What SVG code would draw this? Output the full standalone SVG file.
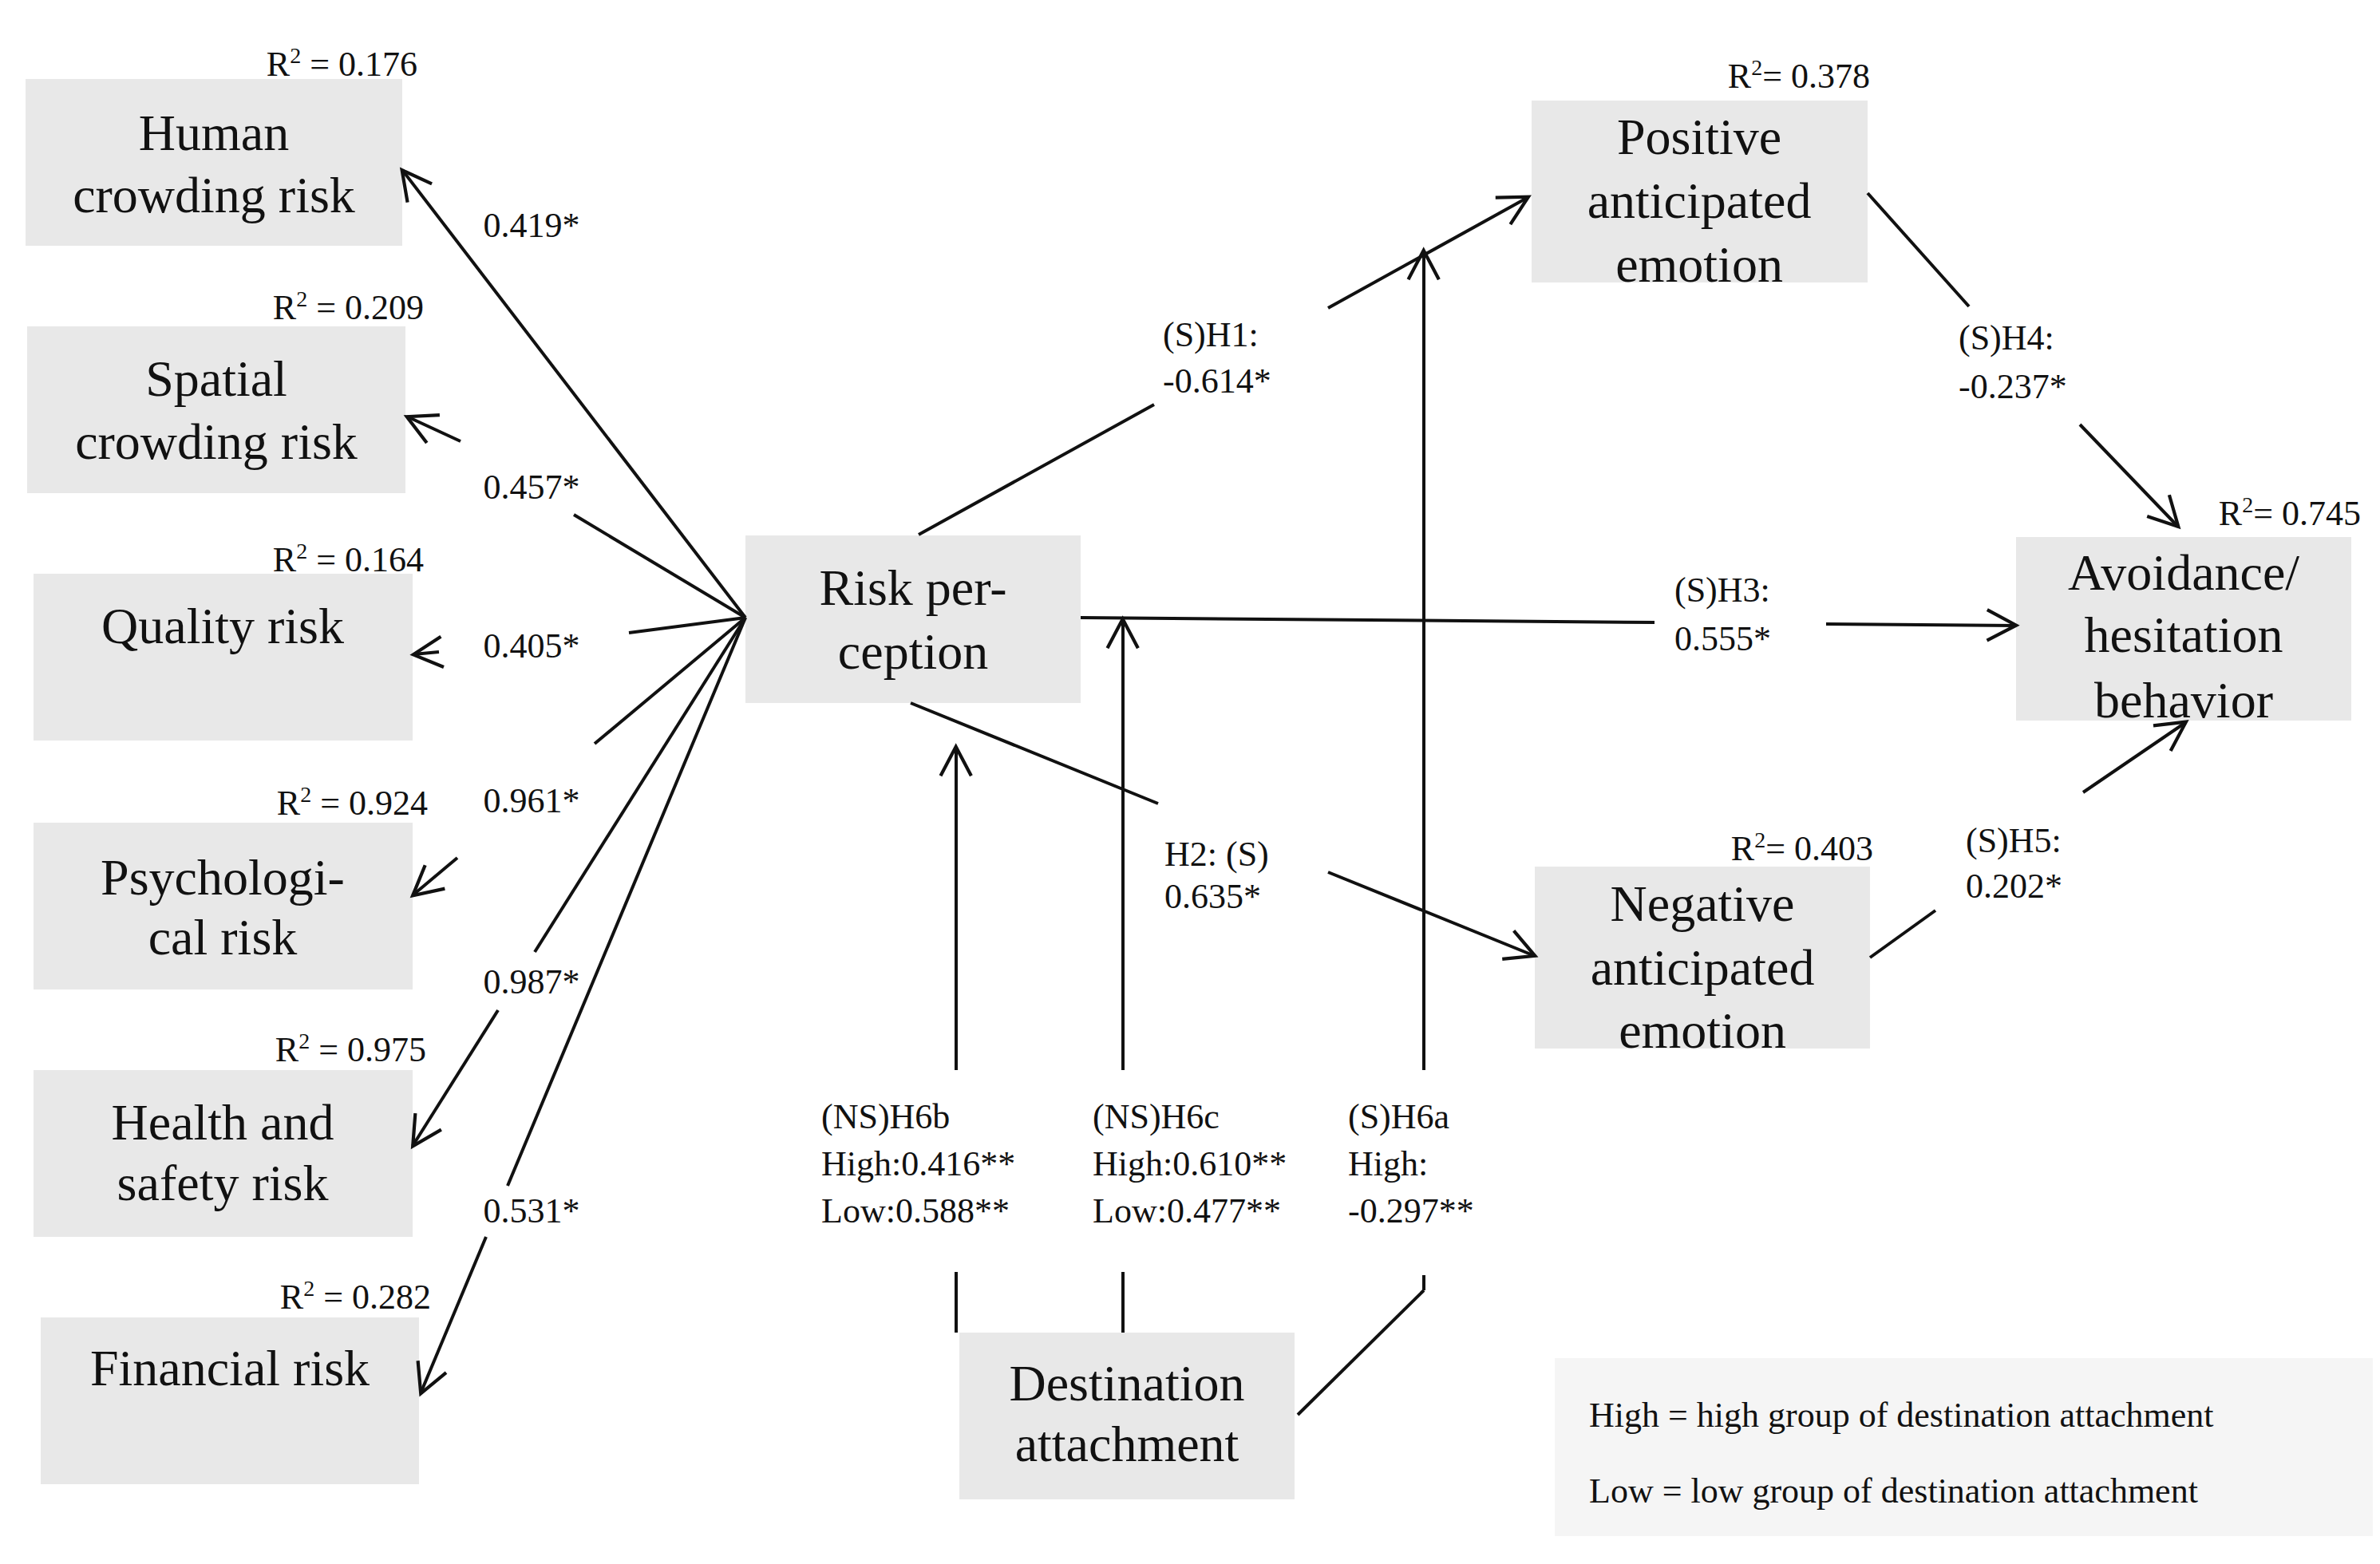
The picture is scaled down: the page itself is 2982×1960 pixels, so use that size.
<svg xmlns="http://www.w3.org/2000/svg" width="2982" height="1960" viewBox="0 0 2982 1960">
<style>
.box{fill:#e8e8e8}
.bt{font-family:"Liberation Serif",serif;font-size:64px;text-anchor:middle;fill:#111}
.lb{font-family:"Liberation Serif",serif;font-size:44px;fill:#111}
.r2{font-family:"Liberation Serif",serif;font-size:44px;text-anchor:end;fill:#111}
.ln{stroke:#111;stroke-width:4;fill:none}
</style>
<defs>
<marker id="a" viewBox="0 0 20 20" refX="19" refY="10" markerWidth="16" markerHeight="16" markerUnits="userSpaceOnUse" orient="auto" overflow="visible">
<polyline points="0,0 19,10 0,20" fill="none" stroke="#111" stroke-width="2.2" transform="scale(2.4) translate(-11,-6)"/>
</marker>
</defs>
<rect width="2982" height="1960" fill="#fff"/>
<g id="human"><rect class="box" x="32" y="99" width="472" height="209"/><text class="bt" x="268" y="188">Human</text><text class="bt" x="268" y="266">crowding risk</text><text class="r2" x="523" y="95">R<tspan font-size="28" dy="-16">2</tspan><tspan dy="16"> = 0.176</tspan></text></g>
<g id="spatial"><rect class="box" x="34" y="409" width="474" height="209"/><text class="bt" x="271" y="496">Spatial</text><text class="bt" x="271" y="575">crowding risk</text><text class="r2" x="531" y="400">R<tspan font-size="28" dy="-16">2</tspan><tspan dy="16"> = 0.209</tspan></text></g>
<g id="quality"><rect class="box" x="42" y="719" width="475" height="209"/><text class="bt" x="279" y="806">Quality risk</text><text class="r2" x="531" y="716">R<tspan font-size="28" dy="-16">2</tspan><tspan dy="16"> = 0.164</tspan></text></g>
<g id="psych"><rect class="box" x="42" y="1031" width="475" height="209"/><text class="bt" x="279" y="1121">Psychologi-</text><text class="bt" x="279" y="1196">cal risk</text><text class="r2" x="536" y="1021">R<tspan font-size="28" dy="-16">2</tspan><tspan dy="16"> = 0.924</tspan></text></g>
<g id="health"><rect class="box" x="42" y="1341" width="475" height="209"/><text class="bt" x="279" y="1428">Health and</text><text class="bt" x="279" y="1504">safety risk</text><text class="r2" x="534" y="1330">R<tspan font-size="28" dy="-16">2</tspan><tspan dy="16"> = 0.975</tspan></text></g>
<g id="financial"><rect class="box" x="51" y="1651" width="474" height="209"/><text class="bt" x="288" y="1736">Financial risk</text><text class="r2" x="540" y="1640">R<tspan font-size="28" dy="-16">2</tspan><tspan dy="16"> = 0.282</tspan></text></g>
<g id="risk"><rect class="box" x="934" y="671" width="420" height="210"/><text class="bt" x="1144" y="758">Risk per-</text><text class="bt" x="1144" y="838">ception</text></g>
<g id="positive"><rect class="box" x="1919" y="126" width="421" height="228"/><text class="bt" x="2129" y="193">Positive</text><text class="bt" x="2129" y="273">anticipated</text><text class="bt" x="2129" y="353">emotion</text><text class="r2" x="2343" y="110">R<tspan font-size="28" dy="-16">2</tspan><tspan dy="16">= 0.378</tspan></text></g>
<g id="avoidance"><rect class="box" x="2526" y="673" width="420" height="230"/><text class="bt" x="2736" y="739">Avoidance/</text><text class="bt" x="2736" y="817">hesitation</text><text class="bt" x="2736" y="899">behavior</text><text class="r2" x="2958" y="658">R<tspan font-size="28" dy="-16">2</tspan><tspan dy="16">= 0.745</tspan></text></g>
<g id="negative"><rect class="box" x="1923" y="1086" width="420" height="228"/><text class="bt" x="2133" y="1154">Negative</text><text class="bt" x="2133" y="1234">anticipated</text><text class="bt" x="2133" y="1313">emotion</text><text class="r2" x="2347" y="1078">R<tspan font-size="28" dy="-16">2</tspan><tspan dy="16">= 0.403</tspan></text></g>
<g id="destination"><rect class="box" x="1202" y="1670" width="420" height="209"/><text class="bt" x="1412" y="1755">Destination</text><text class="bt" x="1412" y="1831">attachment</text></g>
<g id="legend"><rect x="1948" y="1702" width="1025" height="223" fill="#f5f5f5"/><text class="lb" x="1991" y="1788">High = high group of destination attachment</text><text class="lb" x="1991" y="1883">Low = low group of destination attachment</text></g>
<g id="connectors">
<line class="ln" x1="934" y1="774" x2="504" y2="213" marker-end="url(#a)"/>
<line class="ln" x1="934" y1="774" x2="719" y2="645"/><line class="ln" x1="577" y1="553" x2="510" y2="522" marker-end="url(#a)"/>
<line class="ln" x1="934" y1="774" x2="788" y2="793"/><line class="ln" x1="550" y1="817" x2="518" y2="820" marker-end="url(#a)"/>
<line class="ln" x1="934" y1="774" x2="745" y2="932"/><line class="ln" x1="573" y1="1075" x2="517" y2="1122" marker-end="url(#a)"/>
<line class="ln" x1="934" y1="774" x2="670" y2="1193"/><line class="ln" x1="624" y1="1266" x2="517" y2="1436" marker-end="url(#a)"/>
<line class="ln" x1="934" y1="774" x2="636" y2="1486"/><line class="ln" x1="609" y1="1550" x2="527" y2="1746" marker-end="url(#a)"/>
<line class="ln" x1="1151" y1="670" x2="1446" y2="507"/><line class="ln" x1="1664" y1="386" x2="1915" y2="247" marker-end="url(#a)"/>
<line class="ln" x1="1354" y1="774" x2="2073" y2="780"/><line class="ln" x1="2288" y1="782" x2="2526" y2="784" marker-end="url(#a)"/>
<line class="ln" x1="1141" y1="881" x2="1451" y2="1007"/><line class="ln" x1="1664" y1="1093" x2="1923" y2="1198" marker-end="url(#a)"/>
<line class="ln" x1="2340" y1="242" x2="2467" y2="384"/><line class="ln" x1="2606" y1="532" x2="2729" y2="660" marker-end="url(#a)"/>
<line class="ln" x1="2343" y1="1200" x2="2425" y2="1141"/><line class="ln" x1="2610" y1="993" x2="2739" y2="905" marker-end="url(#a)"/>
<line class="ln" x1="1198" y1="1341" x2="1198" y2="936" marker-end="url(#a)"/><line class="ln" x1="1198" y1="1594" x2="1198" y2="1670"/>
<line class="ln" x1="1407" y1="1341" x2="1407" y2="776" marker-end="url(#a)"/><line class="ln" x1="1407" y1="1594" x2="1407" y2="1670"/>
<line class="ln" x1="1784" y1="1341" x2="1784" y2="314" marker-end="url(#a)"/><line class="ln" x1="1784" y1="1598" x2="1784" y2="1617"/><line class="ln" x1="1784" y1="1617" x2="1626" y2="1773"/>
</g>
<g id="labels">
<text class="lb" x="666" y="297" text-anchor="middle">0.419*</text>
<text class="lb" x="666" y="625" text-anchor="middle">0.457*</text>
<text class="lb" x="666" y="824" text-anchor="middle">0.405*</text>
<text class="lb" x="666" y="1018" text-anchor="middle">0.961*</text>
<text class="lb" x="666" y="1245" text-anchor="middle">0.987*</text>
<text class="lb" x="666" y="1532" text-anchor="middle">0.531*</text>
<text class="lb" x="1457" y="434">(S)H1:</text><text class="lb" x="1457" y="492">-0.614*</text>
<text class="lb" x="2098" y="754">(S)H3:</text><text class="lb" x="2098" y="815">0.555*</text>
<text class="lb" x="1459" y="1085">H2: (S)</text><text class="lb" x="1459" y="1138">0.635*</text>
<text class="lb" x="2454" y="438">(S)H4:</text><text class="lb" x="2454" y="499">-0.237*</text>
<text class="lb" x="2463" y="1068">(S)H5:</text><text class="lb" x="2463" y="1125">0.202*</text>
<text class="lb" x="1029" y="1414">(NS)H6b</text><text class="lb" x="1029" y="1473">High:0.416**</text><text class="lb" x="1029" y="1532">Low:0.588**</text>
<text class="lb" x="1369" y="1414">(NS)H6c</text><text class="lb" x="1369" y="1473">High:0.610**</text><text class="lb" x="1369" y="1532">Low:0.477**</text>
<text class="lb" x="1689" y="1414">(S)H6a</text><text class="lb" x="1689" y="1473">High:</text><text class="lb" x="1689" y="1532">-0.297**</text>
</g>
</svg>
